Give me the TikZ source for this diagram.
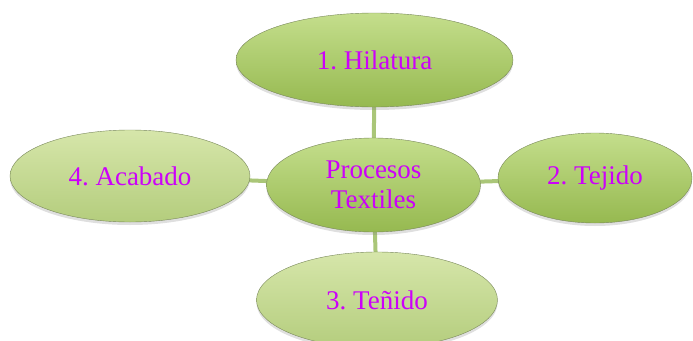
\documentclass[tikz,border=0pt]{standalone}
\usepackage{fontspec}
\setmainfont{Liberation Serif}
\usepackage{xcolor}
\usepackage{tikz}
\usetikzlibrary{
    shapes,
    shapes.geometric,
    positioning,
    shadows,
    backgrounds,
    calc
}
\frenchspacing
\definecolor{leafTop}{RGB}{196,222,140}
\definecolor{leafBottom}{RGB}{150,185,80}
\definecolor{paleTop}{RGB}{214,230,170}
\definecolor{paleBottom}{RGB}{180,205,125}
\definecolor{rimGreen}{RGB}{120,135,90}
\definecolor{stemGreen}{RGB}{170,198,120}
\definecolor{procText}{RGB}{204,0,250}
\tikzset{
  basic/.style = {
      ellipse,
      draw=rimGreen,
      thin,
      inner sep=0pt,
      align=center,
      text=procText,
      font=\rmfamily\fontsize{27}{30}\selectfont,
      drop shadow={opacity=0.25, shadow xshift=0pt, shadow yshift=-3pt},
      top color=leafTop,
      bottom color=leafBottom
  },
  pale/.style = {
      basic,
      top color=paleTop,
      bottom color=paleBottom
  },
  edge/.style = {
      draw=stemGreen,
      line width=4pt
  }
}
\begin{document}
\begin{tikzpicture}[x=1pt, y=-1pt]
        \useasboundingbox (0,0) rectangle (693,340);
        \node[basic, minimum width=214pt, minimum height=94pt] (P) at (373.5,185) {Procesos\\Textiles};
        \node[basic, minimum width=277pt, minimum height=94pt] (H) at (374.5,60) {1. Hilatura};
        \node[basic, minimum width=194pt, minimum height=90pt] (T) at (595,178) {2. Tejido};
        \node[pale, minimum width=241pt, minimum height=96pt] (N) at (377,300) {3. Teñido};
        \node[pale, minimum width=240pt, minimum height=92pt] (A) at (130,176) {4. Acabado};
        % Edges
        \begin{pgfonlayer}{background}
        \path[edge]
        (P.center) -- (H.center)
        (P.center) -- (T.center)
        (P.center) -- (N.center)
        (P.center) -- (A.center);
        \end{pgfonlayer}
    \end{tikzpicture}
\end{document}
